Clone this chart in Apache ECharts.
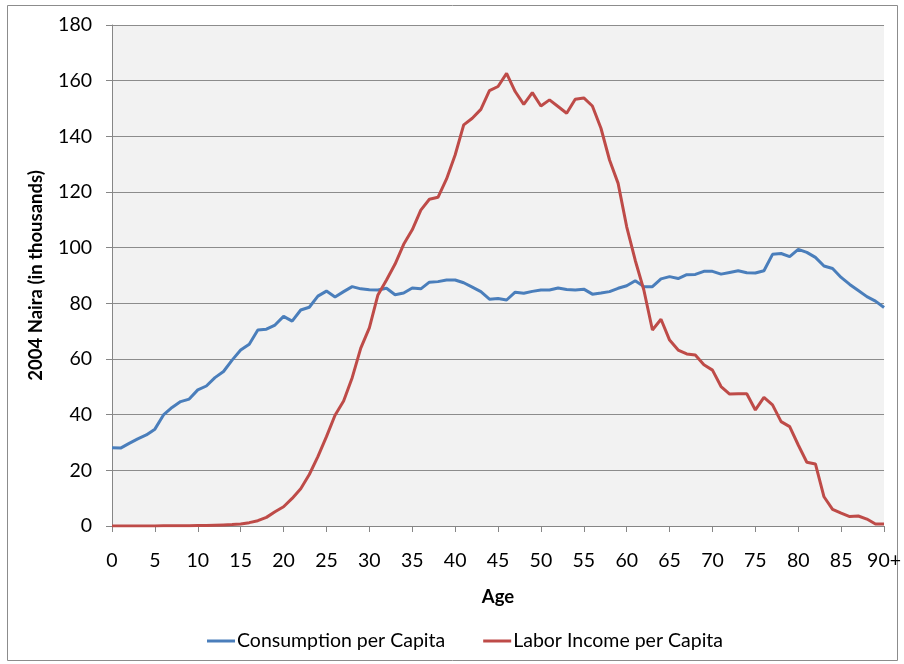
<!DOCTYPE html>
<html>
<head>
<meta charset="utf-8">
<script src="https://cdn.jsdelivr.net/npm/echarts@6/dist/echarts.min.js"></script>
<style>
  html, body { margin: 0; padding: 0; background: #fff; }
  #chart { width: 904px; height: 664px; }
</style>
</head>
<body>
<div id="chart"></div>
<script>
// ages 0..89 then 90+
var ages = [];
for (var a = 0; a < 90; a++) ages.push(String(a));
ages.push("90+");

// consumption per capita (thousands of 2004 Naira)
var consumption = [
  28.1, 28.0, 29.7, 31.3, 32.7, 34.8, 39.9, 42.6, 44.7, 45.6,
  48.9, 50.3, 53.3, 55.5, 59.6, 63.2, 65.3, 70.4, 70.7, 72.2,
  75.3, 73.6, 77.6, 78.6, 82.6, 84.4, 82.3, 84.2, 86.0, 85.2,
  84.9, 84.8, 85.4, 83.1, 83.7, 85.5, 85.2, 87.6, 87.8, 88.4,
  88.4, 87.4, 85.8, 84.2, 81.5, 81.7, 81.2, 84.0, 83.6, 84.3,
  84.8, 84.8, 85.5, 85.0, 84.8, 85.1, 83.3, 83.7, 84.2, 85.4,
  86.3, 88.1, 86.0, 86.0, 88.8, 89.6, 88.9, 90.3, 90.4, 91.5,
  91.5, 90.5, 91.1, 91.7, 91.0, 90.9, 91.7, 97.6, 97.9, 96.8,
  99.4, 98.3, 96.5, 93.4, 92.5, 89.3, 86.8, 84.6, 82.4, 80.8,
  78.5
];

// labor income per capita
var laborIncome = [
  0.0, 0.0, 0.0, 0.0, 0.0, 0.0, 0.1, 0.1, 0.1, 0.1,
  0.2, 0.2, 0.3, 0.4, 0.5, 0.7, 1.2, 1.9, 3.1, 5.1,
  6.9, 9.9, 13.4, 18.5, 24.9, 32.1, 39.8, 44.9, 53.3, 63.9,
  71.2, 83.0, 88.4, 94.1, 101.2, 106.4, 113.5, 117.4, 118.1, 124.7,
  133.3, 144.1, 146.5, 149.7, 156.4, 157.9, 162.6, 156.1, 151.5, 155.7,
  150.9, 153.1, 150.7, 148.3, 153.3, 153.8, 150.9, 142.9, 131.5, 123.1,
  107.5, 95.4, 84.8, 70.4, 74.3, 66.8, 63.2, 61.8, 61.4, 57.9,
  56.0, 50.1, 47.4, 47.5, 47.5, 41.7, 46.2, 43.5, 37.5, 35.7,
  29.1, 22.9, 22.3, 10.5, 6.0, 4.6, 3.4, 3.6, 2.5, 0.7,
  0.7
];

var yTicks = [0, 20, 40, 60, 80, 100, 120, 140, 160, 180];

var font = "Lato, 'Open Sans', sans-serif";
var myChart = echarts.init(document.getElementById("chart"));

var options = {
  backgroundColor: "#fff",
  animation: false,
  textStyle: { fontFamily: font },
  graphic: [
    {
      type: "rect",
      shape: { x: 7.5, y: 5.5, width: 890, height: 655 },
      style: { fill: null, stroke: "#8c8c8c", lineWidth: 1 },
      silent: true
    }
  ],
  grid: {
    left: 112,
    right: 17,
    top: 25,
    bottom: 138,
    show: true,
    backgroundColor: "#f2f2f2",
    borderWidth: 0
  },
  legend: {
    bottom: 8,
    left: 202,
    itemGap: 38,
    itemWidth: 28,
    itemHeight: 3,
    icon: "rect",
    textStyle: { fontFamily: font, fontSize: 19.5, color: "#000", padding: [0, 0, 0, -3] },
    data: ["Consumption per Capita", "Labor Income per Capita"]
  },
  xAxis: {
    type: "category",
    boundaryGap: false,
    data: ages,
    name: "Age",
    nameLocation: "middle",
    nameGap: 62,
    nameTextStyle: { fontFamily: font, fontSize: 18.5, fontWeight: "bold", color: "#000" },
    axisLine: { lineStyle: { color: "#868686", width: 1 } },
    axisTick: { show: true, interval: 4, length: 6, lineStyle: { color: "#868686" } },
    axisLabel: { interval: 4, margin: 25, fontSize: 19.5, color: "#000", fontFamily: font },
    splitLine: { show: false }
  },
  yAxis: {
    type: "value",
    min: 0,
    max: 180,
    interval: 20,
    name: "2004 Naira (in thousands)",
    nameLocation: "middle",
    nameGap: 66,
    nameRotate: 90,
    nameTextStyle: { fontFamily: font, fontSize: 18.5, fontWeight: "bold", color: "#000" },
    axisLine: { show: true, lineStyle: { color: "#868686", width: 1 } },
    axisTick: { show: true, length: 6, lineStyle: { color: "#868686" } },
    axisLabel: {
      margin: 20,
      fontSize: 19.5,
      color: "#000",
      fontFamily: font,
      formatter: function (v) { return yTicks.indexOf(v) >= 0 ? String(v) : ""; }
    },
    splitLine: { show: true, lineStyle: { color: "#8c8c8c", width: 1 } }
  },
  series: [
    {
      name: "Consumption per Capita",
      type: "line",
      data: consumption,
      symbol: "none",
      color: "#4a7ebb",
      lineStyle: { color: "#4a7ebb", width: 3 }
    },
    {
      name: "Labor Income per Capita",
      type: "line",
      data: laborIncome,
      symbol: "none",
      color: "#be4b48",
      lineStyle: { color: "#be4b48", width: 3 }
    }
  ]
};

myChart.setOption(options);
</script>
</body>
</html>
